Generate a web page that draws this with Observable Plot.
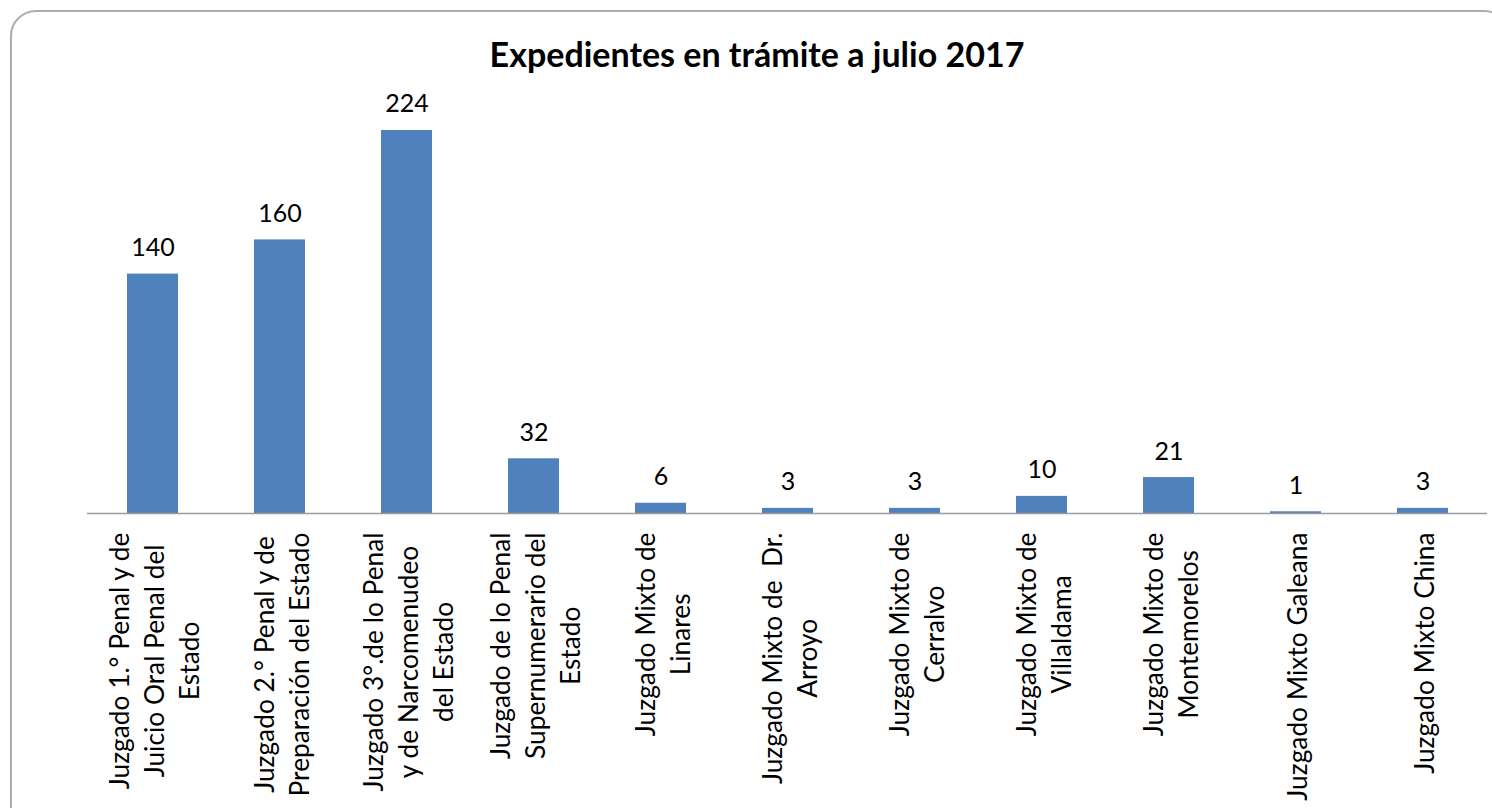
<!DOCTYPE html>
<html>
<head>
<meta charset="utf-8">
<script src="https://cdn.jsdelivr.net/npm/d3@7"></script>
<script src="https://cdn.jsdelivr.net/npm/@observablehq/plot@0.6"></script>
<style>
  html, body { margin: 0; padding: 0; background: #fff; overflow: hidden; }
  #wrap { position: relative; width: 1492px; height: 808px; overflow: hidden; }
  #border { position: absolute; left: 10px; top: 10px; width: 1500px; height: 830px;
            border: 2px solid #ADADAD; border-radius: 26px; box-sizing: border-box; }
  #title { position: absolute; left: 0; top: 33px; width: 1514px; text-align: center;
           font-family: Lato, "Open Sans", sans-serif; font-weight: bold; font-size: 34px; color: #000; }
  #chart { position: absolute; left: 0; top: 0; }
</style>
</head>
<body>
<div id="wrap">
  <div id="border"></div>
  <div id="chart"></div>
  <div id="title">Expedientes en trámite a julio 2017</div>
</div>
<script>
const categories = [
  "Juzgado 1.° Penal y de\nJuicio Oral Penal del\nEstado",
  "Juzgado 2.° Penal y de\nPreparación del Estado",
  "Juzgado 3°.de lo Penal\ny de Narcomenudeo\ndel Estado",
  "Juzgado de lo Penal\nSupernumerario del\nEstado",
  "Juzgado Mixto de\nLinares",
  "Juzgado Mixto de  Dr.\nArroyo",
  "Juzgado Mixto de\nCerralvo",
  "Juzgado Mixto de\nVillaldama",
  "Juzgado Mixto de\nMontemorelos",
  "Juzgado Mixto Galeana",
  "Juzgado Mixto China"
];
const values = [140, 160, 224, 32, 6, 3, 3, 10, 21, 1, 3];

const data = categories.map((c, i) => ({category: c, value: values[i]}));

const FONT = "Lato, 'Open Sans', sans-serif";

const chart = Plot.plot({
  width: 1492,
  height: 808,
  marginLeft: 87,
  marginRight: 5,
  marginTop: 85.5,
  marginBottom: 295,
  style: {fontFamily: FONT, background: "transparent", overflow: "visible"},
  x: {domain: categories, paddingInner: 0.6, paddingOuter: 0.3, axis: null},
  y: {domain: [0, 250], axis: null},
  marks: [
    Plot.barY(data, {x: "category", y: "value", fill: "#4F81BD"}),
    Plot.ruleY([0], {stroke: "#9C9C9C", strokeWidth: 1.5}),
    Plot.text(data, {x: "category", y: "value", text: d => String(d.value),
      lineAnchor: "bottom", dy: -18, fontSize: 25, fill: "#000"}),
    Plot.text(data, {x: "category", y: () => 0, text: "category",
      rotate: -90, textAnchor: "end", lineAnchor: "middle", lineHeight: 1.33,
      dy: 19, fontSize: 26.3, fill: "#000", className: "ticklabels"})
  ]
});
document.getElementById("chart").appendChild(chart);

// center each line of the rotated multi-line labels within its block
chart.querySelectorAll("g.ticklabels text").forEach(t => {
  const spans = t.querySelectorAll("tspan");
  if (!spans.length) return;
  let L = 0;
  spans.forEach(s => { L = Math.max(L, s.getComputedTextLength()); });
  t.setAttribute("text-anchor", "middle");
  spans.forEach(s => s.setAttribute("x", -L / 2));
});
</script>
</body>
</html>
